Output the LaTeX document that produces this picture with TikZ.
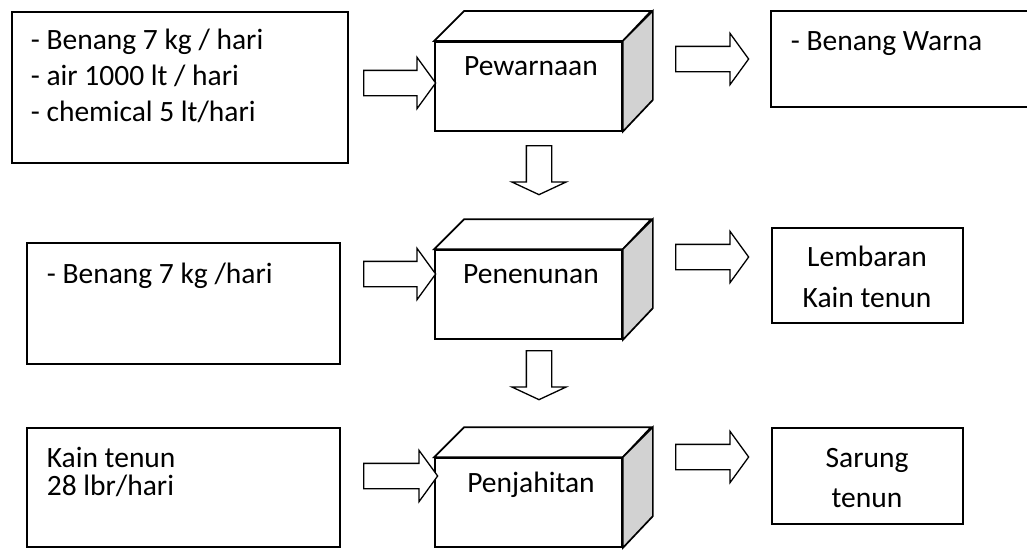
\documentclass[tikz,border=0pt]{standalone}
\usepackage{fontspec}
\setmainfont{Carlito}
\usetikzlibrary{shapes.arrows}

\begin{document}
\begin{tikzpicture}[x=1pt, y=-1pt, line width=1.7pt,
    box node/.style={rectangle,draw,inner sep=0pt},
    stage node/.style={rectangle,draw,fill=white,inner sep=0pt,minimum width=187pt,minimum height=89pt},
    txt/.style={inner sep=0pt,anchor=base west,align=left,font=\fontsize{29.5}{36}\selectfont},
    flow/.style={single arrow,draw,line width=1.3pt,fill=white,inner xsep=0pt,inner ysep=12pt,anchor=tail,minimum height=72pt,single arrow head extend=13pt,single arrow tip angle=108},
    down flow/.style={flow,shape border rotate=270,inner xsep=12pt,inner ysep=0pt,minimum height=49pt,single arrow head extend=14.5pt,single arrow tip angle=130}]

                \clip (0,0) rectangle (1027,549);

                % input boxes
                \node[box node, minimum width=336pt, minimum height=151pt] at (180, 87.5) (in1) {};
                \node[box node, minimum width=313pt, minimum height=121pt] at (183.5, 303.5) (in2) {};
                \node[box node, minimum width=313pt, minimum height=119pt] at (183.5, 487.5) (in3) {};

                % (base of a node with several lines = last line)
                \node[txt] at (30, 121) (tin1) {- Benang 7 kg / hari\\- air 1000 lt / hari\\- chemical 5 lt/hari};
                \node[txt] at (46, 283) (tin2) {- Benang 7 kg /hari};
                \node[txt, font=\fontsize{29.5}{28}\selectfont] at (46, 495) (tin3) {Kain tenun\\28 lbr/hari};

                % process boxes
                \node[stage node] at (528.5, 86.25) (p1) {};
                \node[stage node] at (528.5, 294.5) (p2) {};
                \node[stage node] at (528.5, 502.5) (p3) {};

                \foreach \p in {p1, p2, p3} {
                    \draw[fill=white] (\p.north west) -- ++(30,-30) -- ++(187,0) -- (\p.north east) -- cycle;
                    \draw[fill=gray!35] (\p.north east) -- ++(30,-30) -- ++(0,89) -- (\p.south east) -- cycle;
                }

                \node[txt, anchor=base] at (531, 75) (tp1) {Pewarnaan};
                \node[txt, anchor=base] at (531, 283) (tp2) {Penenunan};
                \node[txt, anchor=base] at (531, 492) (tp3) {Penjahitan};

                % output boxes
                \node[box node, minimum width=264pt, minimum height=96pt] at (903, 59) (out1) {};
                \node[box node, minimum width=191pt, minimum height=95pt] at (867.5, 275.5) (out2) {};
                \node[box node, minimum width=191pt, minimum height=96pt] at (867.5, 476) (out3) {};

                \node[txt] at (790, 50) (tout1) {- Benang Warna};
                \node[txt, anchor=base, align=center, font=\fontsize{29.5}{41}\selectfont] at (867, 307) (tout2) {Lembaran\\Kain tenun};
                \node[txt, anchor=base, align=center, font=\fontsize{29.5}{40}\selectfont] at (867, 507) (tout3) {Sarung\\tenun};

                % block arrows
                \node[flow] at (363, 83) (a1) {};
                \node[flow] at (363, 274) (a2) {};
                \node[flow, minimum height=74pt] at (363, 476) (a3) {};
                \node[flow, minimum height=73pt] at (675, 59) (b1) {};
                \node[flow, minimum height=73pt] at (675, 257) (b2) {};
                \node[flow, minimum height=73pt] at (675, 457) (b3) {};
                \node[down flow] at (539, 145) (d1) {};
                \node[down flow] at (539, 350) (d2) {};

\end{tikzpicture}
\end{document}
